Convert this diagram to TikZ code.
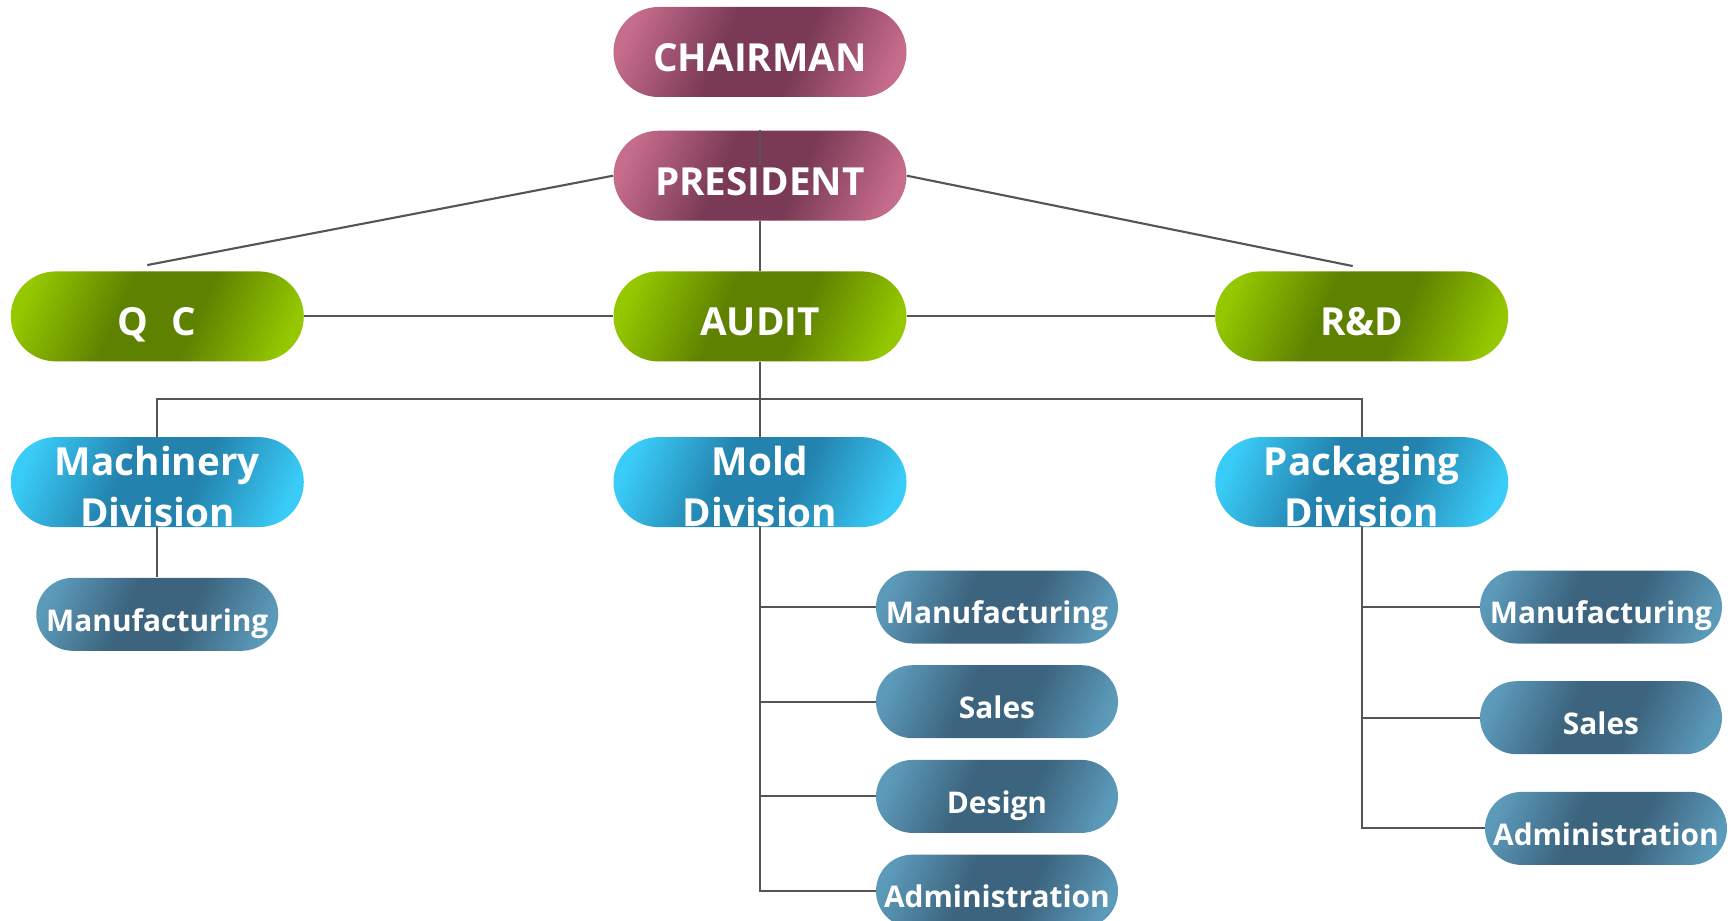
\documentclass[tikz,border=0pt]{standalone}
\usepackage{fontspec}
\setmainfont{Open Sans}
\usetikzlibrary{positioning,calc,backgrounds}
\definecolor{chieflight}{HTML}{C66C8C}
\definecolor{chiefdark}{HTML}{7A3A55}
\definecolor{stafflight}{HTML}{95C800}
\definecolor{staffdark}{HTML}{5E8200}
\definecolor{divlight}{HTML}{3ACCF8}
\definecolor{divdark}{HTML}{2383AE}
\definecolor{unitlight}{HTML}{5C9ABA}
\definecolor{unitdark}{HTML}{3C647E}
\definecolor{linegray}{HTML}{555555}
\pgfdeclarehorizontalshading{chiefshade}{100bp}{color(0bp)=(chieflight); color(22bp)=(chieflight);
	color(42bp)=(chiefdark); color(58bp)=(chiefdark); color(78bp)=(chieflight); color(100bp)=(chieflight)}
\pgfdeclarehorizontalshading{staffshade}{100bp}{color(0bp)=(stafflight); color(22bp)=(stafflight);
	color(42bp)=(staffdark); color(58bp)=(staffdark); color(78bp)=(stafflight); color(100bp)=(stafflight)}
\pgfdeclarehorizontalshading{divshade}{100bp}{color(0bp)=(divlight); color(22bp)=(divlight);
	color(42bp)=(divdark); color(58bp)=(divdark); color(78bp)=(divlight); color(100bp)=(divlight)}
\pgfdeclarehorizontalshading{unitshade}{100bp}{color(0bp)=(unitlight); color(22bp)=(unitlight);
	color(42bp)=(unitdark); color(58bp)=(unitdark); color(78bp)=(unitlight); color(100bp)=(unitlight)}
\tikzset{
	pill/.style={rectangle, inner sep=0pt, text=white, align=center, shade, shading angle=-24,
		font=\bfseries\fontsize{22}{29}\selectfont, text height=0.78cm, text depth=0cm,
		minimum width=5.86cm, minimum height=1.8cm, rounded corners=0.9cm},
	chief/.style={pill, shading=chiefshade},
	staff/.style={pill, shading=staffshade},
	division/.style={pill, shading=divshade, text height=1.78cm, text depth=-0.18cm},
	unit/.style={pill, shading=unitshade, minimum width=4.84cm, minimum height=1.46cm,
		rounded corners=0.73cm, font=\bfseries\fontsize{17}{20}\selectfont, text height=0.67cm},
	link/.style={draw=linegray, line width=1.2pt},
}

\begin{document}
\begin{tikzpicture}
	\useasboundingbox (0,0) rectangle (34.64,-18.42);
	% top of the chart
	\node[chief] (chair) at (15.2,-1.04) {CHAIRMAN};
	\node[chief, below=0.66cm of chair] (pres) {PRESIDENT};
	\node[staff, below=1.0cm of pres] (audit) {AUDIT};
	\node[staff, left=6.18cm of audit] (qc) {Q\hspace{0.6em}C};
	\node[staff, right=6.16cm of audit] (rd) {R\&D};
	% divisions
	\node[division, below=1.5cm of audit] (mold) {Mold\\Division};
	\node[division, left=6.18cm of mold] (mach) {Machinery\\Division};
	\node[division, right=6.16cm of mold] (pack) {Packaging\\Division};
	% departments
	\node[unit, below=1.0cm of mach] (machmfg) {Manufacturing};
	\node[unit] (moldmfg) at (19.94,-12.14) {Manufacturing};
	\node[unit, below=0.42cm of moldmfg] (moldsales) {Sales};
	\node[unit, below=0.42cm of moldsales] (molddes) {Design};
	\node[unit, below=0.42cm of molddes] (moldadm) {Administration};
	\node[unit] (packmfg) at (32.02,-12.14) {Manufacturing};
	\node[unit, below=0.74cm of packmfg] (packsales) {Sales};
	\node[unit, below=0.74cm of packsales, xshift=0.1cm] (packadm) {Administration};
	\coordinate (qctop) at ($(qc.north)+(-0.2,0.12)$);
	\coordinate (rdtop) at ($(rd.north)+(-0.18,0.1)$);
	\coordinate (bus) at ($(audit.south)!0.5!(mold.north)$);
	\coordinate (presmark) at ($(pres.north)+(0,-0.7)$);
	\begin{scope}[on background layer]
		\draw[link] (pres.west) -- (qctop);
		\draw[link] (pres.east) -- (rdtop);
		\draw[link] (pres) -- (audit);
		\draw[link] (qc) -- (audit);
		\draw[link] (audit) -- (rd);
		\draw[link] (audit) -- (mold);
		\draw[link] (mach) |- (bus) -| (pack);
		\draw[link] (mach) -- (machmfg);
		\draw[link] (mold) |- (moldmfg);
		\draw[link] (mold) |- (moldsales);
		\draw[link] (mold) |- (molddes);
		\draw[link] (mold) |- (moldadm);
		\draw[link] (pack) |- (packmfg);
		\draw[link] (pack) |- (packsales);
		\draw[link] (pack) |- (packadm);
	\end{scope}
	\draw[link] (pres.north) -- (presmark);
\end{tikzpicture}
\end{document}
